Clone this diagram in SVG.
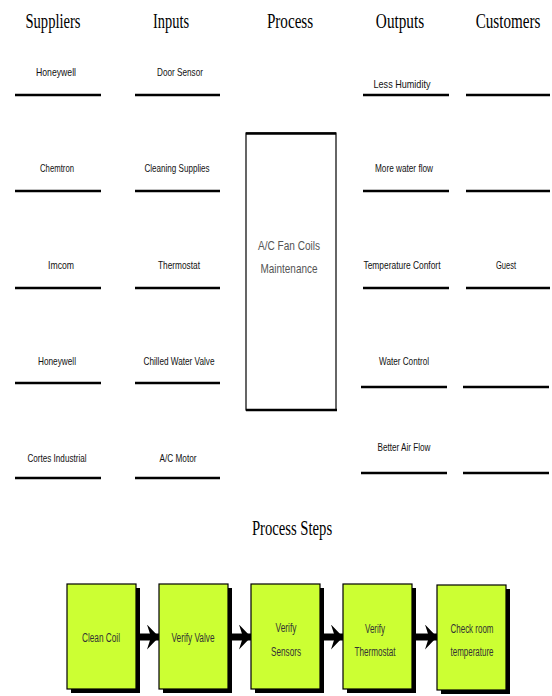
<svg xmlns="http://www.w3.org/2000/svg" width="552" height="696" viewBox="0 0 552 696">
<defs>
<style>
.hdr{font-family:"Liberation Serif",serif;font-size:22px;fill:#000;text-anchor:middle}
.lbl{font-family:"Liberation Sans",sans-serif;font-size:11.5px;fill:#111;text-anchor:middle}
.bar{stroke:#000;stroke-width:2.5}
.proc{font-family:"Liberation Sans",sans-serif;font-size:13px;fill:#555;text-anchor:middle}
.step{fill:#CCFF33;stroke:#000;stroke-width:1.2}
.shadow{fill:#000}
.stxt{font-family:"Liberation Sans",sans-serif;font-size:12.5px;fill:#333;text-anchor:middle}
.arr{stroke:#000;stroke-width:7}
</style>
<marker id="head" markerUnits="userSpaceOnUse" markerWidth="13" markerHeight="26" refX="12" refY="12.5" orient="auto" viewBox="0 0 13 26">
<path d="M0,0 L12,12.5 L0,25 L4,12.5 Z" fill="#000"/>
</marker>
</defs>
<rect width="552" height="696" fill="#fff"/>

<g id="headers">
<text class="hdr" transform="translate(53,28) scale(0.68,1)" textLength="81" lengthAdjust="spacingAndGlyphs">Suppliers</text>
<text class="hdr" transform="translate(171,28) scale(0.68,1)" textLength="53" lengthAdjust="spacingAndGlyphs">Inputs</text>
<text class="hdr" transform="translate(290,28) scale(0.68,1)" textLength="68" lengthAdjust="spacingAndGlyphs">Process</text>
<text class="hdr" transform="translate(400,28) scale(0.68,1)" textLength="71" lengthAdjust="spacingAndGlyphs">Outputs</text>
<text class="hdr" transform="translate(508,28) scale(0.68,1)" textLength="95" lengthAdjust="spacingAndGlyphs">Customers</text>
</g>

<g id="suppliers">
<text class="lbl" x="56" y="76" textLength="40" lengthAdjust="spacingAndGlyphs">Honeywell</text>
<line class="bar" x1="15" y1="95" x2="101" y2="95"/>
<text class="lbl" x="57" y="172" textLength="34" lengthAdjust="spacingAndGlyphs">Chemtron</text>
<line class="bar" x1="15" y1="191" x2="101" y2="191"/>
<text class="lbl" x="61" y="269" textLength="26" lengthAdjust="spacingAndGlyphs">Imcom</text>
<line class="bar" x1="15" y1="288" x2="101" y2="288"/>
<text class="lbl" x="57" y="365" textLength="38" lengthAdjust="spacingAndGlyphs">Honeywell</text>
<line class="bar" x1="15" y1="383" x2="101" y2="383"/>
<text class="lbl" x="57" y="462" textLength="59" lengthAdjust="spacingAndGlyphs">Cortes Industrial</text>
<line class="bar" x1="15" y1="478" x2="101" y2="478"/>
</g>

<g id="inputs">
<text class="lbl" x="180" y="76" textLength="46" lengthAdjust="spacingAndGlyphs">Door Sensor</text>
<line class="bar" x1="135" y1="95" x2="220" y2="95"/>
<text class="lbl" x="177" y="172" textLength="65" lengthAdjust="spacingAndGlyphs">Cleaning Supplies</text>
<line class="bar" x1="135" y1="191" x2="220" y2="191"/>
<text class="lbl" x="179" y="269" textLength="42" lengthAdjust="spacingAndGlyphs">Thermostat</text>
<line class="bar" x1="135" y1="288" x2="220" y2="288"/>
<text class="lbl" x="179" y="365" textLength="71" lengthAdjust="spacingAndGlyphs">Chilled Water Valve</text>
<line class="bar" x1="135" y1="383" x2="220" y2="383"/>
<text class="lbl" x="178" y="462" textLength="37" lengthAdjust="spacingAndGlyphs">A/C Motor</text>
<line class="bar" x1="135" y1="478" x2="220" y2="478"/>
</g>

<g id="process">
<rect x="246" y="133" width="90" height="277" fill="#fff" stroke="#000" stroke-width="1.2"/>
<line x1="246" y1="133.5" x2="336" y2="133.5" stroke="#000" stroke-width="2.5"/>
<line x1="246" y1="410" x2="337" y2="410" stroke="#000" stroke-width="2.5"/>
<text class="proc" x="289" y="250" textLength="62" lengthAdjust="spacingAndGlyphs">A/C Fan Coils</text>
<text class="proc" x="289" y="273" textLength="57" lengthAdjust="spacingAndGlyphs">Maintenance</text>
</g>

<g id="outputs">
<text class="lbl" x="402" y="88" textLength="57" lengthAdjust="spacingAndGlyphs">Less Humidity</text>
<line class="bar" x1="363" y1="95" x2="449" y2="95"/>
<text class="lbl" x="404" y="172" textLength="58" lengthAdjust="spacingAndGlyphs">More water flow</text>
<line class="bar" x1="363" y1="191" x2="449" y2="191"/>
<text class="lbl" x="402" y="269" textLength="77" lengthAdjust="spacingAndGlyphs">Temperature Confort</text>
<line class="bar" x1="363" y1="288" x2="449" y2="288"/>
<text class="lbl" x="404" y="365" textLength="50" lengthAdjust="spacingAndGlyphs">Water Control</text>
<line class="bar" x1="361" y1="387" x2="447" y2="387"/>
<text class="lbl" x="404" y="451" textLength="53" lengthAdjust="spacingAndGlyphs">Better Air Flow</text>
<line class="bar" x1="361" y1="473" x2="447" y2="473"/>
</g>

<g id="customers">
<line class="bar" x1="466" y1="95" x2="550" y2="95"/>
<line class="bar" x1="466" y1="191" x2="550" y2="191"/>
<text class="lbl" x="506" y="269" textLength="20" lengthAdjust="spacingAndGlyphs">Guest</text>
<line class="bar" x1="466" y1="288" x2="550" y2="288"/>
<line class="bar" x1="463" y1="387" x2="549" y2="387"/>
<line class="bar" x1="463" y1="473" x2="549" y2="473"/>
</g>

<text class="hdr" transform="translate(292,535) scale(0.68,1)" textLength="118" lengthAdjust="spacingAndGlyphs">Process Steps</text>

<g id="step1">
<rect class="shadow" x="71" y="588" width="69" height="105"/>
<rect class="step" x="67" y="584" width="69" height="105"/>
<text class="stxt" x="101" y="642" textLength="38" lengthAdjust="spacingAndGlyphs">Clean Coil</text>
</g>
<g id="step2">
<rect class="shadow" x="163" y="588" width="69" height="105"/>
<rect class="step" x="159" y="584" width="69" height="105"/>
<text class="stxt" x="193" y="642" textLength="43" lengthAdjust="spacingAndGlyphs">Verify Valve</text>
</g>
<g id="step3">
<rect class="shadow" x="255" y="588" width="69" height="105"/>
<rect class="step" x="251" y="584" width="69" height="105"/>
<text class="stxt" x="286" y="632" textLength="21" lengthAdjust="spacingAndGlyphs">Verify</text>
<text class="stxt" x="286" y="656" textLength="30" lengthAdjust="spacingAndGlyphs">Sensors</text>
</g>
<g id="step4">
<rect class="shadow" x="347" y="588" width="69" height="105"/>
<rect class="step" x="343" y="584" width="69" height="105"/>
<text class="stxt" x="375" y="633" textLength="20" lengthAdjust="spacingAndGlyphs">Verify</text>
<text class="stxt" x="375" y="656" textLength="41" lengthAdjust="spacingAndGlyphs">Thermostat</text>
</g>
<g id="step5">
<rect class="shadow" x="441" y="589" width="69" height="105"/>
<rect class="step" x="437" y="585" width="69" height="105"/>
<text class="stxt" x="472" y="633" textLength="43" lengthAdjust="spacingAndGlyphs">Check room</text>
<text class="stxt" x="472" y="656" textLength="43" lengthAdjust="spacingAndGlyphs">temperature</text>
</g>

<g id="connectors">
<line class="arr" x1="137" y1="637" x2="159" y2="637" marker-end="url(#head)"/>
<line class="arr" x1="229" y1="637" x2="251" y2="637" marker-end="url(#head)"/>
<line class="arr" x1="321" y1="637" x2="343" y2="637" marker-end="url(#head)"/>
<line class="arr" x1="413" y1="637" x2="437" y2="637" marker-end="url(#head)"/>
</g>
</svg>
